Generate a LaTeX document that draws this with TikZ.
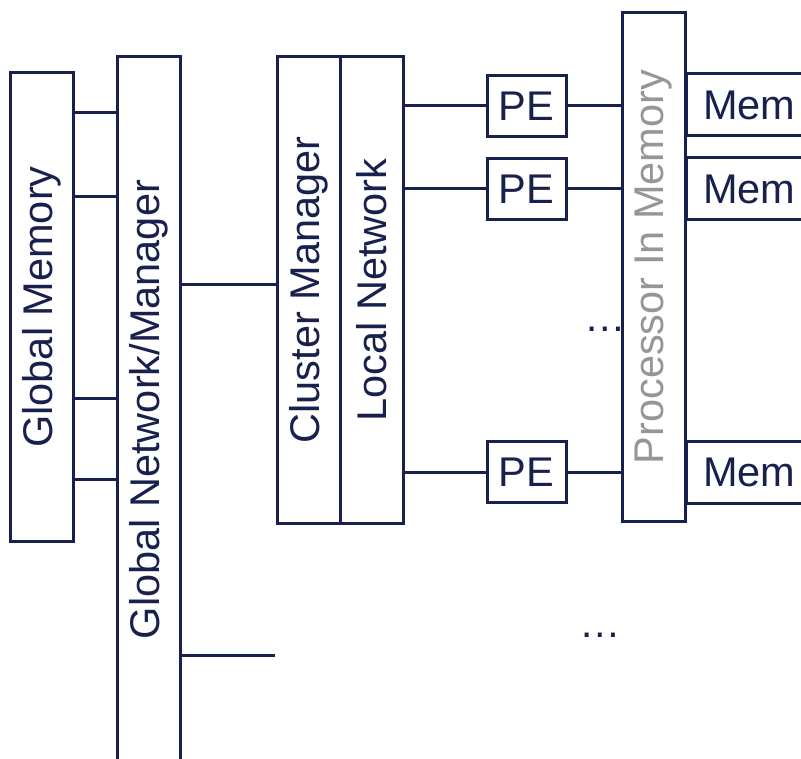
\documentclass[tikz,border=0pt]{standalone}
\usepackage{fontspec}
\setmainfont{Liberation Sans}
\definecolor{navy}{RGB}{24,32,78}
\definecolor{pimgray}{RGB}{150,150,150}
\begin{document}
\begin{tikzpicture}[x=1pt,y=-1pt,
  every node/.style={font=\fontsize{41.5}{50}\selectfont, text=navy},
  wire/.style={draw=navy, line width=3pt},
  tallbox/.style={draw=navy, line width=3pt, fill=white, minimum width=63pt, inner sep=0pt},
  pebox/.style={draw=navy, line width=3pt, minimum width=79pt, minimum height=61pt, inner sep=0pt},
  membox/.style={draw=navy, line width=3pt, minimum width=144pt, minimum height=62pt,
                 inner xsep=17pt, inner ysep=0pt, text width=110pt, align=left},
  dotsnode/.style={anchor=base, inner sep=0pt}]
\clip (0,0) rectangle (801,759);
\fill[white] (0,0) rectangle (801,759);

% vertical units
\node[tallbox, minimum height=468pt] (gm)  at (41.5,307)  {\rotatebox{90}{Global Memory}};
\node[tallbox, minimum height=705pt] (gnm) at (148.5,409.5) {\rotatebox{90}{Global Network/Manager}};
\node[tallbox, minimum height=466pt] (cm)  at (308.5,290) {\rotatebox{90}{Cluster Manager}};
\node[tallbox, minimum height=466pt] (ln)  at (371.5,290) {\rotatebox{90}{Local Network}};
\node[tallbox, minimum height=508pt, text=pimgray] (pim) at (653.5,267) {\rotatebox{90}{Processor In Memory}};

% processing elements
\node[pebox] (pe1) at (526.5,106) {PE};
\node[pebox] (pe2) at (526.5,189) {PE};
\node[pebox] (pe3) at (526.5,472) {PE};

% memory banks
\node[membox] (mem1) at (758,105) {Mem};
\node[membox] (mem2) at (758,189) {Mem};
\node[membox] (mem3) at (758,472) {Mem};

% global memory ports
\coordinate (p1) at (0,113);
\coordinate (p2) at (0,197);
\coordinate (p3) at (0,399);
\coordinate (p4) at (0,479);
\foreach \p in {p1,p2,p3,p4}
  \draw[wire] (gm.east |- \p) -- (gnm.west |- \p);

% global network to clusters
\coordinate (c1) at (0,285);
\draw[wire] (gnm.east |- c1) -- (cm.west |- c1);
\coordinate (c2) at (275,655);
\draw[wire] (gnm.east |- c2) -- (c2);

% local network to PEs, PEs to PIM
\foreach \n in {pe1,pe2,pe3} {
  \draw[wire] (ln.east |- \n) -- (\n.west);
  \draw[wire] (\n.east) -- (pim.west |- \n);
}

% ellipses
\node[dotsnode] (d1) at (605,332) {…};
\node[dotsnode] (d2) at (600,637) {…};
\end{tikzpicture}
\end{document}
